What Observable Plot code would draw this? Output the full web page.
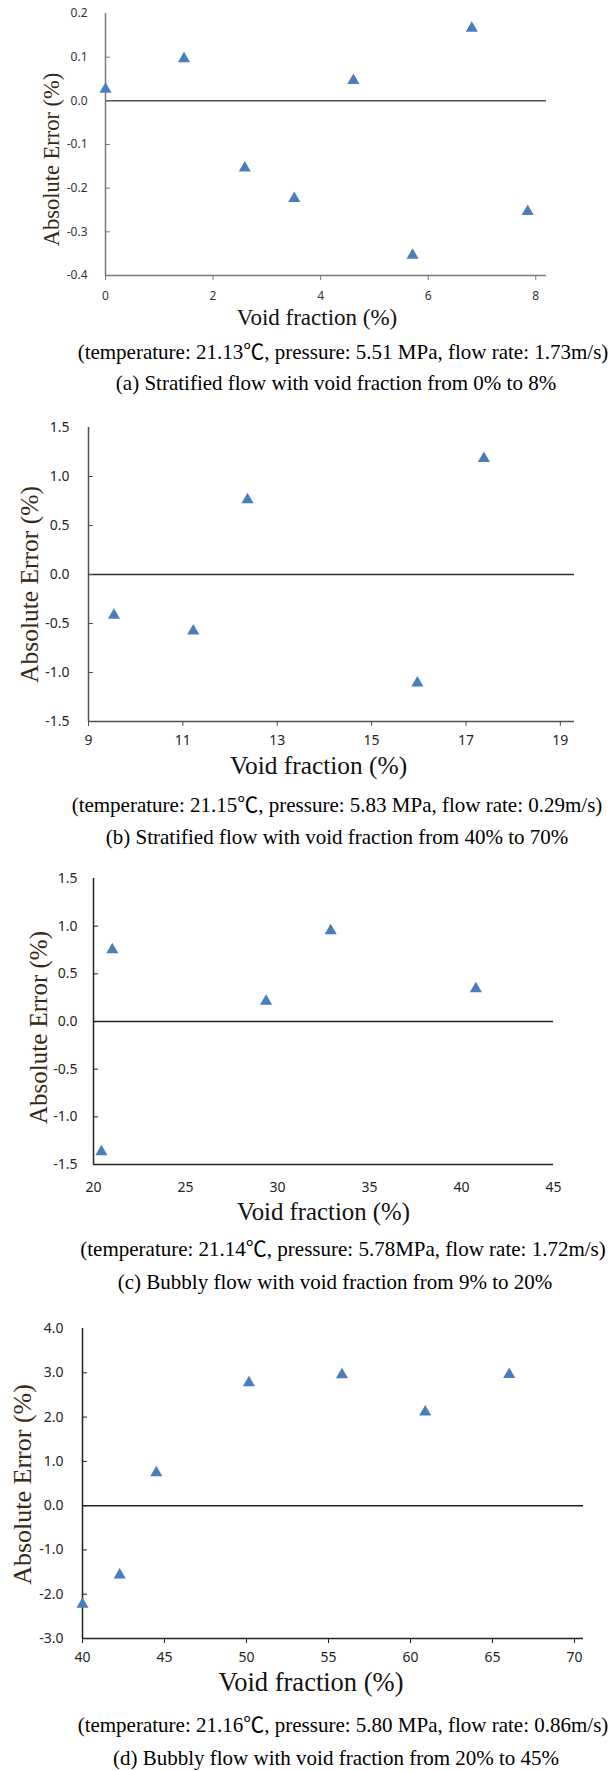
<!DOCTYPE html>
<html><head><meta charset="utf-8">
<script src="https://cdn.jsdelivr.net/npm/d3@7"></script>
<script src="https://cdn.jsdelivr.net/npm/@observablehq/plot@0.6"></script>
<style>
html,body{margin:0;padding:0;background:#fff;}
#page{position:relative;width:613px;height:1771px;overflow:hidden;background:#fff;}
.cap{position:absolute;white-space:nowrap;font-family:"Liberation Serif","Times New Roman","Noto Sans CJK SC",serif;font-size:21px;line-height:22px;color:#000;transform:translateX(-50%);}
#page svg{position:absolute;left:0;}
</style></head><body><div id="page"></div>
<script>
// ---- data ----
const voidA = [0, 1.46, 2.59, 3.51, 4.61, 5.71, 6.81, 7.85];
const errA  = [0.03, 0.10, -0.15, -0.22, 0.05, -0.35, 0.17, -0.25];
const xTicksA = [0, 2, 4, 6, 8];
const yTicksA = [-0.4, -0.3, -0.2, -0.1, 0, 0.1, 0.2];
const capsA = ["(temperature: 21.13\u2103, pressure: 5.51 MPa, flow rate: 1.73m/s)",
               "(a) Stratified flow with void fraction from 0% to 8%"];

const voidB = [9.54, 11.22, 12.37, 15.97, 17.38];
const errB  = [-0.40, -0.56, 0.78, -1.09, 1.20];
const xTicksB = [9, 11, 13, 15, 17, 19];
const yTicksB = [-1.5, -1.0, -0.5, 0, 0.5, 1.0, 1.5];
const capsB = ["(temperature: 21.15\u2103, pressure: 5.83 MPa, flow rate: 0.29m/s)",
               "(b) Stratified flow with void fraction from 40% to 70%"];

const voidC = [20.43, 21.02, 29.38, 32.89, 40.78];
const errC  = [-1.35, 0.77, 0.23, 0.97, 0.36];
const xTicksC = [20, 25, 30, 35, 40, 45];
const yTicksC = [-1.5, -1.0, -0.5, 0, 0.5, 1.0, 1.5];
const capsC = ["(temperature: 21.14\u2103, pressure: 5.78MPa, flow rate: 1.72m/s)",
               "(c) Bubbly flow with void fraction from 9% to 20%"];

const voidD = [40.0, 42.27, 44.5, 50.15, 55.82, 60.9, 66.02];
const errD  = [-2.19, -1.53, 0.78, 2.81, 2.99, 2.15, 3.0];
const xTicksD = [40, 45, 50, 55, 60, 65, 70];
const yTicksD = [-3, -2, -1, 0, 1, 2, 3, 4];
const capsD = ["(temperature: 21.16\u2103, pressure: 5.80 MPa, flow rate: 0.86m/s)",
               "(d) Bubbly flow with void fraction from 20% to 45%"];

const xLabel = "Void fraction (%)";
const yLabel = "Absolute Error (%)";

// ---- layout / style ----
const panels = [
  {x: voidA, y: errA, xDomain: [0, 8.2], yDomain: [-0.4, 0.2], xTicks: xTicksA, yTicks: yTicksA, caps: capsA,
   L: {left: 105, right: 546, top: 13, bottom: 275, tickFont: 12, tickColor: "#333333", axisColor: "#7a7a7a", zeroColor: "#505050",
       xTickSize: 5, xTickPad: 11, yPad: 18, yl: {size: 22.5, dx: -54, dy: 15}, xl: {size: 23, dx: -9, dy: 42},
       capY: [352, 383], capX: [343, 336]}},
  {x: voidB, y: errB, xDomain: [9, 19.3], yDomain: [-1.5, 1.5], xTicks: xTicksB, yTicks: yTicksB, caps: capsB,
   L: {left: 88, right: 574, top: 427, bottom: 721, tickFont: 14, tickColor: "#262626", axisColor: "#505050", zeroColor: "#303030",
       xTickSize: 5, xTickPad: 9, yPad: 19, yl: {size: 25.5, dx: -59, dy: 10}, xl: {size: 25.4, dx: -13, dy: 44},
       capY: [805, 837], capX: [337, 337]}},
  {x: voidC, y: errC, xDomain: [20, 45], yDomain: [-1.5, 1.5], xTicks: xTicksC, yTicks: yTicksC, caps: capsC,
   L: {left: 93, right: 553, top: 878, bottom: 1164, tickFont: 14, tickColor: "#262626", axisColor: "#222222", zeroColor: "#222222",
       xTickSize: 0, xTickPad: 18, yPad: 16, yl: {size: 25, dx: -55, dy: 6}, xl: {size: 24.8, dx: 0, dy: 48},
       capY: [1249, 1282], capX: [343, 335]}},
  {x: voidD, y: errD, xDomain: [40, 70.55], yDomain: [-3, 4], xTicks: xTicksD, yTicks: yTicksD, caps: capsD,
   L: {left: 82, right: 583, top: 1328, bottom: 1638, tickFont: 14, tickColor: "#262626", axisColor: "#222222", zeroColor: "#222222",
       xTickSize: 5, xTickPad: 9, yPad: 19, yl: {size: 26, dx: -60, dy: 1}, xl: {size: 26.5, dx: -22, dy: 44},
       capY: [1725, 1758], capX: [343, 336]}}
];

const W = 613, MT = 12, MB = 72;
const sans = "'Noto Sans', 'Open Sans', sans-serif";
const serif = "'Liberation Serif', 'Times New Roman', serif";
const page = document.getElementById("page");

for (const p of panels) {
  const L = p.L;
  const h = MT + (L.bottom - L.top) + MB;
  const chart = Plot.plot({
    width: W, height: h,
    marginLeft: L.left, marginRight: W - L.right, marginTop: MT, marginBottom: MB,
    style: {background: "transparent", overflow: "visible"},
    x: {domain: p.xDomain},
    y: {domain: p.yDomain},
    marks: [
      Plot.ruleY([0], {stroke: L.zeroColor, strokeWidth: 1.5}),
      Plot.ruleX([p.xDomain[0]], {stroke: L.axisColor, strokeWidth: 1.5}),
      Plot.ruleY([p.yDomain[0]], {stroke: L.axisColor, strokeWidth: 1.5}),
      Plot.axisY({ticks: p.yTicks, tickSize: 0, tickPadding: L.yPad, tickFormat: d => d.toFixed(1),
                  fill: L.tickColor, fontSize: L.tickFont, fontFamily: sans, label: null}),
      Plot.axisY({ticks: p.yTicks.filter(d => d !== p.yDomain[0] && d !== p.yDomain[1]), tickSize: 5, dx: 5,
                  stroke: L.axisColor, fill: "none", label: null}),
      Plot.axisX({ticks: p.xTicks, tickSize: L.xTickSize, tickPadding: L.xTickPad, tickFormat: d => String(d),
                  stroke: L.axisColor, fill: L.tickColor, fontSize: L.tickFont, fontFamily: sans, label: null}),
      Plot.text([yLabel], {text: d => d, frameAnchor: "left", textAnchor: "middle", lineAnchor: "middle",
                  rotate: -90, dx: L.yl.dx, dy: L.yl.dy,
                  fontSize: L.yl.size, fontFamily: serif, fill: "#3a2812"}),
      Plot.text([xLabel], {text: d => d, frameAnchor: "bottom", textAnchor: "middle", lineAnchor: "middle",
                  dx: L.xl.dx, dy: L.xl.dy,
                  fontSize: L.xl.size, fontFamily: serif, fill: "#111"}),
      Plot.dot(p.x, {x: p.x, y: p.y, symbol: "triangle", r: 4.5, dy: 1.6, fill: "#4a7ebb", stroke: "none"})
    ]
  });
  chart.style.top = (L.top - MT) + "px";
  page.appendChild(chart);
  p.caps.forEach((c, i) => {
    const d = document.createElement("div");
    d.className = "cap";
    d.textContent = c;
    d.style.left = L.capX[i] + "px";
    d.style.top = (L.capY[i] - 11) + "px";
    page.appendChild(d);
  });
}
</script>
</body></html>
